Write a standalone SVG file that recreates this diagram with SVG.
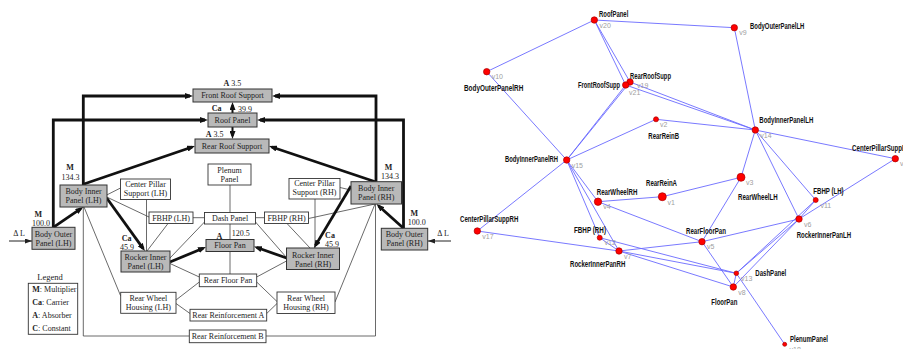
<svg xmlns="http://www.w3.org/2000/svg" width="903" height="349" viewBox="0 0 903 349">
<defs>
<style>
.box{fill:#fff;stroke:#333;stroke-width:0.9}
.gbox{fill:#b9b9b9;stroke:#333;stroke-width:1}
.t{font-family:"Liberation Serif",serif;font-size:8px;fill:#222;text-anchor:middle}
.s{text-anchor:start}
.b{font-weight:bold}
.thin{fill:none;stroke:#444;stroke-width:0.8}
.thick{fill:none;stroke:#111;stroke-width:2.8;marker-end:url(#ah)}
.med{fill:none;stroke:#111;stroke-width:2;marker-end:url(#ah)}
.dl{fill:none;stroke:#222;stroke-width:1;marker-end:url(#ah2)}
.edge{fill:none;stroke:#6a6aff;stroke-width:0.9}
.v{fill:#f00;stroke:#a00;stroke-width:0.7}
.lbl{font-family:"Liberation Sans",sans-serif;font-weight:bold;font-size:8.5px;fill:#111}
.vid{font-family:"Liberation Sans",sans-serif;font-size:7px;fill:#a0a0a0}
</style>
<marker id="ah" viewBox="0 0 8 6" refX="5" refY="3" markerWidth="8" markerHeight="6" markerUnits="userSpaceOnUse" orient="auto"><path d="M0,0 L8,3 L0,6 z" fill="#111"/></marker>
<marker id="ah2" viewBox="0 0 7 5" refX="7" refY="2.5" markerWidth="7" markerHeight="5" markerUnits="userSpaceOnUse" orient="auto"><path d="M0,0 L7,2.5 L0,5 z" fill="#222"/></marker>
</defs>
<rect width="903" height="349" fill="#fff"/>

<!-- ===== Left block diagram connectors ===== -->
<g id="block-connectors">
<path class="thin" d="M106.7,195 L120.5,188"/>
<path class="thin" d="M106.7,197 L149,217"/>
<path class="thin" d="M146.5,199.5 L146.5,251"/>
<path class="thin" d="M168,223.5 L147,251"/>
<path class="thin" d="M193,217.7 L204.5,217.7"/>
<path class="thin" d="M204.5,222 L170,258"/>
<path class="thin" d="M170,263.5 L199.3,277"/>
<path class="thin" d="M176,300 L199.3,282"/>
<path class="thin" d="M176,303.5 L190,313.5"/>
<path class="thin" d="M84,207 L120.7,296"/>
<path class="thin" d="M83.3,207 L83.3,336 L189.3,336"/>
<path class="thin" d="M230,185 L230,212.5"/>
<path class="thin" d="M230,224 L230,239.5"/>
<path class="thin" d="M230,251.5 L230,274"/>
<path class="thin" d="M255.5,217.7 L264.5,217.7"/>
<path class="thin" d="M255.5,222 L286.5,257.5"/>
<path class="thin" d="M256.7,277 L286.5,261"/>
<path class="thin" d="M256.7,282 L277,301.5"/>
<path class="thin" d="M266.7,313.5 L277,303.5"/>
<path class="thin" d="M350.7,190 L340,187.5"/>
<path class="thin" d="M308.5,218.5 L375,204"/>
<path class="thin" d="M315,199 L315,248"/>
<path class="thin" d="M287,223.5 L310,248"/>
<path class="thin" d="M375,204 L335,302"/>
<path class="thin" d="M375.5,204 L375.5,336 L266,336"/>
<path class="thick" d="M83.3,185 L83.3,96 L190,96"/>
<path class="thick" d="M53.3,227.3 L53.3,120 L205,120"/>
<path class="thick" d="M84,184 L192.2,147"/>
<path class="thick" d="M376,181.7 L376,96 L275,96"/>
<path class="thick" d="M403.5,228.3 L403.5,120 L260,120"/>
<path class="thick" d="M376,182 L271.8,147"/>
<path class="thick" d="M53.3,227.3 L80.8,208.7"/>
<path class="thick" d="M403.5,228.3 L378.7,206"/>
<path class="thick" d="M106.7,198 L143.2,248.6"/>
<path class="thick" d="M351,186 L315.5,245.4"/>
<path class="thick" d="M170,262 L203.2,248.2"/>
<path class="thick" d="M286.5,258 L256.8,247.5"/>
<path class="med" d="M232.5,113 L232.5,105"/>
<path class="med" d="M232.5,127 L232.5,136"/>
<path class="dl" d="M9,241 L32,241"/>
<path class="dl" d="M451,241 L428,241"/>
</g>

<!-- ===== Left block diagram nodes ===== -->
<g id="frontRoofSupport"><rect class="gbox" x="193" y="89" width="79" height="13"/><text class="t" x="232.5" y="98.3">Front Roof Support</text><text class="t" x="232.4" y="86"><tspan class="b">A</tspan> 3.5</text></g>
<g id="roofPanel"><rect class="gbox" x="208" y="113" width="49" height="14"/><text class="t" x="232.5" y="122.8">Roof Panel</text><text class="t b" x="216.7" y="110.7">Ca</text><text class="t s" x="238" y="111.5">39.9</text></g>
<g id="rearRoofSupport"><rect class="gbox" x="195" y="139" width="74" height="14"/><text class="t" x="232" y="148.8">Rear Roof Support</text><text class="t s" x="205.7" y="137"><tspan class="b">A</tspan> 3.5</text></g>
<g id="plenumPanel"><rect class="box" x="208" y="164" width="43" height="21"/><text class="t" x="229.5" y="173">Plenum</text><text class="t" x="229.5" y="182">Panel</text></g>
<g id="centerPillarLH"><rect class="box" x="120.5" y="179" width="50" height="20.5"/><text class="t" x="145.5" y="186.5">Center Pillar</text><text class="t" x="145.5" y="195.5">Support (LH)</text></g>
<g id="centerPillarRH"><rect class="box" x="289" y="178.5" width="51" height="20.5"/><text class="t" x="314.5" y="186">Center Pillar</text><text class="t" x="314.5" y="195">Support (RH)</text></g>
<g id="fbhpLH"><rect class="box" x="149" y="212" width="44" height="11.5"/><text class="t" x="171" y="220.8">FBHP (LH)</text></g>
<g id="dashPanel"><rect class="box" x="204.5" y="212.5" width="51" height="11.5"/><text class="t" x="230" y="221">Dash Panel</text></g>
<g id="fbhpRH"><rect class="box" x="264.5" y="212" width="44" height="11.5"/><text class="t" x="286.5" y="220.8">FBHP (RH)</text></g>
<g id="floorPan"><rect class="gbox" x="206" y="239.5" width="48" height="12"/><text class="t" x="230" y="248.3">Floor Pan</text><text class="t b" x="219.3" y="238.7">A</text><text class="t s" x="231.7" y="236">120.5</text></g>
<g id="rockerLH"><rect class="gbox" x="121" y="251" width="49" height="21"/><text class="t" x="145.5" y="260.3">Rocker Inner</text><text class="t" x="145.5" y="269.3">Panel (LH)</text><text class="t b" x="126.7" y="241">Ca</text><text class="t" x="127" y="250">45.9</text></g>
<g id="rockerRH"><rect class="gbox" x="286.5" y="248" width="53" height="21.5"/><text class="t" x="313" y="257.5">Rocker Inner</text><text class="t" x="313" y="266.5">Panel (RH)</text><text class="t b" x="330" y="238">Ca</text><text class="t" x="332" y="246.5">45.9</text></g>
<g id="bodyInnerLH"><rect class="gbox" x="60" y="185" width="47" height="22"/><text class="t" x="83.5" y="194.3">Body Inner</text><text class="t" x="83.5" y="203.3">Panel (LH)</text><text class="t b" x="70" y="170">M</text><text class="t" x="70.5" y="180">134.3</text></g>
<g id="bodyOuterLH"><rect class="gbox" x="32" y="227.3" width="43" height="22"/><text class="t" x="53.5" y="236.5">Body Outer</text><text class="t" x="53.5" y="245.5">Panel (LH)</text><text class="t b" x="38.3" y="217">M</text><text class="t" x="41" y="226">100.0</text><text class="t" x="19" y="236">Δ L</text></g>
<g id="bodyInnerRH"><rect class="gbox" x="351" y="181.7" width="50.5" height="22.3"/><text class="t" x="376.2" y="191">Body Inner</text><text class="t" x="376.2" y="200">Panel (RH)</text><text class="t b" x="388.5" y="170">M</text><text class="t" x="390" y="179">134.3</text></g>
<g id="bodyOuterRH"><rect class="gbox" x="381.3" y="228.3" width="46.4" height="21.7"/><text class="t" x="404.5" y="237.3">Body Outer</text><text class="t" x="404.5" y="246.3">Panel (RH)</text><text class="t b" x="414.3" y="216">M</text><text class="t" x="416.7" y="225">100.0</text><text class="t" x="443" y="236">Δ L</text></g>
<g id="rearFloorPan"><rect class="box" x="199.3" y="274" width="57.4" height="12.7"/><text class="t" x="228" y="283">Rear Floor Pan</text></g>
<g id="rearWheelLH"><rect class="box" x="120.7" y="292.3" width="55.3" height="21"/><text class="t" x="148.3" y="301">Rear Wheel</text><text class="t" x="148.3" y="310">Housing (LH)</text></g>
<g id="rearWheelRH"><rect class="box" x="277" y="292" width="58" height="21.5"/><text class="t" x="306" y="301">Rear Wheel</text><text class="t" x="306" y="310">Housing (RH)</text></g>
<g id="rearReinA"><rect class="box" x="190" y="309.3" width="76.7" height="11.7"/><text class="t" x="228.3" y="318">Rear Reinforcement A</text></g>
<g id="rearReinB"><rect class="box" x="189.3" y="330" width="76.7" height="12.7"/><text class="t" x="227.7" y="339">Rear Reinforcement B</text></g>
<g id="legend"><text class="t" x="50" y="279.5" style="font-size:8.5px">Legend</text><rect class="box" x="28.3" y="283.3" width="49.4" height="51"/>
<text class="t s" x="32.3" y="292"><tspan class="b">M</tspan>: Multiplier</text>
<text class="t s" x="32.3" y="305"><tspan class="b">Ca</tspan>: Carrier</text>
<text class="t s" x="32.3" y="318"><tspan class="b">A</tspan>: Absorber</text>
<text class="t s" x="32.3" y="330.8"><tspan class="b">C</tspan>: Constant</text></g>

<!-- ===== Right graph edges ===== -->
<g id="graph-edges">
<line class="edge" x1="594.3" y1="20" x2="734.3" y2="27.7"/>
<line class="edge" x1="594.3" y1="20" x2="486.7" y2="71.7"/>
<line class="edge" x1="594.3" y1="20" x2="625.7" y2="85"/>
<line class="edge" x1="594.3" y1="20" x2="630" y2="82"/>
<line class="edge" x1="486.7" y1="71.7" x2="566.7" y2="160"/>
<line class="edge" x1="625.7" y1="85" x2="566.7" y2="160"/>
<line class="edge" x1="630" y1="82" x2="566.7" y2="160"/>
<line class="edge" x1="625.7" y1="85" x2="755.3" y2="130"/>
<line class="edge" x1="630" y1="82" x2="755.3" y2="130"/>
<line class="edge" x1="656" y1="119.3" x2="566.7" y2="160"/>
<line class="edge" x1="656" y1="119.3" x2="755.3" y2="130"/>
<line class="edge" x1="734.3" y1="27.7" x2="755.3" y2="130"/>
<line class="edge" x1="755.3" y1="130" x2="895.3" y2="158.7"/>
<line class="edge" x1="755.3" y1="130" x2="741" y2="177.3"/>
<line class="edge" x1="755.3" y1="130" x2="799" y2="219"/>
<line class="edge" x1="755.3" y1="130" x2="815.7" y2="200"/>
<line class="edge" x1="895.3" y1="158.7" x2="799" y2="219"/>
<line class="edge" x1="815.7" y1="200" x2="799" y2="219"/>
<line class="edge" x1="815.7" y1="200" x2="736.3" y2="273.3"/>
<line class="edge" x1="799" y1="219" x2="736.3" y2="273.3"/>
<line class="edge" x1="799" y1="219" x2="733.3" y2="287"/>
<line class="edge" x1="799" y1="219" x2="702" y2="241.7"/>
<line class="edge" x1="741" y1="177.3" x2="662.3" y2="196.7"/>
<line class="edge" x1="741" y1="177.3" x2="702" y2="241.7"/>
<line class="edge" x1="662.3" y1="196.7" x2="598" y2="201.7"/>
<line class="edge" x1="598" y1="201.7" x2="566.7" y2="160"/>
<line class="edge" x1="598" y1="201.7" x2="702" y2="241.7"/>
<line class="edge" x1="566.7" y1="160" x2="477.3" y2="231"/>
<line class="edge" x1="566.7" y1="160" x2="599.7" y2="237.7"/>
<line class="edge" x1="566.7" y1="160" x2="619" y2="251"/>
<line class="edge" x1="477.3" y1="231" x2="619" y2="251"/>
<line class="edge" x1="599.7" y1="237.7" x2="619" y2="251"/>
<line class="edge" x1="599.7" y1="237.7" x2="736.3" y2="273.3"/>
<line class="edge" x1="619" y1="251" x2="702" y2="241.7"/>
<line class="edge" x1="619" y1="251" x2="736.3" y2="273.3"/>
<line class="edge" x1="619" y1="251" x2="733.3" y2="287"/>
<line class="edge" x1="702" y1="241.7" x2="733.3" y2="287"/>
<line class="edge" x1="736.3" y1="273.3" x2="784.7" y2="344.3"/>
<line class="edge" x1="736.3" y1="273.3" x2="733.3" y2="287"/>
</g>

<!-- ===== Right graph nodes ===== -->
<g id="v20"><circle class="v" cx="594.3" cy="20" r="3.2"/><text class="lbl" x="599" y="17" textLength="29.3" lengthAdjust="spacingAndGlyphs">RoofPanel</text><text class="vid" x="599.5" y="27.5">v20</text></g>
<g id="v9"><circle class="v" cx="734.3" cy="27.7" r="3.2"/><text class="lbl" x="750" y="28.7" textLength="54.3" lengthAdjust="spacingAndGlyphs">BodyOuterPanelLH</text><text class="vid" x="739.3" y="35.3">v9</text></g>
<g id="v10"><circle class="v" cx="486.7" cy="71.7" r="3.2"/><text class="lbl" x="464" y="90.7" textLength="59.3" lengthAdjust="spacingAndGlyphs">BodyOuterPanelRH</text><text class="vid" x="491.7" y="79.2">v10</text></g>
<g id="v19"><circle class="v" cx="630" cy="82" r="3.2"/><text class="lbl" x="630" y="78.7" textLength="41" lengthAdjust="spacingAndGlyphs">RearRoofSupp</text><text class="vid" x="637" y="87.5">v19</text></g>
<g id="v21"><circle class="v" cx="625.7" cy="85" r="3.2"/><text class="lbl" x="578" y="87.7" textLength="42" lengthAdjust="spacingAndGlyphs">FrontRoofSupp</text><text class="vid" x="629" y="94.5">v21</text></g>
<g id="v2"><circle class="v" cx="656" cy="119.3" r="2.5"/><text class="lbl" x="648.3" y="139" textLength="30.7" lengthAdjust="spacingAndGlyphs">RearReinB</text><text class="vid" x="660" y="127">v2</text></g>
<g id="v15"><circle class="v" cx="566.7" cy="160" r="3.2"/><text class="lbl" x="505" y="162.3" textLength="53" lengthAdjust="spacingAndGlyphs">BodyInnerPanelRH</text><text class="vid" x="571.7" y="167.5">v15</text></g>
<g id="v14"><circle class="v" cx="755.3" cy="130" r="3.2"/><text class="lbl" x="759.3" y="123" textLength="54" lengthAdjust="spacingAndGlyphs">BodyInnerPanelLH</text><text class="vid" x="760.3" y="137.5">v14</text></g>
<g id="v16"><circle class="v" cx="895.3" cy="158.7" r="3.2"/><text class="lbl" x="852" y="151" textLength="58.3" lengthAdjust="spacingAndGlyphs">CenterPillarSuppLH</text><text class="vid" x="900" y="166.2">v16</text></g>
<g id="v4"><circle class="v" cx="598" cy="201.7" r="3.7"/><text class="lbl" x="596.7" y="194.7" textLength="40.7" lengthAdjust="spacingAndGlyphs">RearWheelRH</text><text class="vid" x="603.3" y="209.2">v4</text></g>
<g id="v1"><circle class="v" cx="662.3" cy="196.7" r="4"/><text class="lbl" x="646" y="185.7" textLength="31" lengthAdjust="spacingAndGlyphs">RearReinA</text><text class="vid" x="667.5" y="204.5">v1</text></g>
<g id="v17"><circle class="v" cx="477.3" cy="231" r="3.2"/><text class="lbl" x="460" y="222.3" textLength="58.3" lengthAdjust="spacingAndGlyphs">CenterPillarSuppRH</text><text class="vid" x="482.3" y="238.5">v17</text></g>
<g id="v12"><circle class="v" cx="599.7" cy="237.7" r="2.5"/><text class="lbl" x="574" y="233" textLength="32" lengthAdjust="spacingAndGlyphs">FBHP (RH)</text><text class="vid" x="604.5" y="245.2">v12</text></g>
<g id="v7"><circle class="v" cx="619" cy="251" r="3.2"/><text class="lbl" x="570" y="267" textLength="55.3" lengthAdjust="spacingAndGlyphs">RockerInnerPanRH</text><text class="vid" x="624" y="258.5">v7</text></g>
<g id="v3"><circle class="v" cx="741" cy="177.3" r="4"/><text class="lbl" x="738" y="199.7" textLength="39.7" lengthAdjust="spacingAndGlyphs">RearWheelLH</text><text class="vid" x="746" y="185">v3</text></g>
<g id="v11"><circle class="v" cx="815.7" cy="200" r="2.5"/><text class="lbl" x="813.3" y="194.3" textLength="30.3" lengthAdjust="spacingAndGlyphs">FBHP (LH)</text><text class="vid" x="820.5" y="207.5">v11</text></g>
<g id="v6"><circle class="v" cx="799" cy="219" r="3.2"/><text class="lbl" x="796.7" y="238.3" textLength="54.3" lengthAdjust="spacingAndGlyphs">RockerInnerPanLH</text><text class="vid" x="804" y="226.5">v6</text></g>
<g id="v5"><circle class="v" cx="702" cy="241.7" r="3.2"/><text class="lbl" x="686" y="234" textLength="40" lengthAdjust="spacingAndGlyphs">RearFloorPan</text><text class="vid" x="707" y="249.2">v5</text></g>
<g id="v13"><circle class="v" cx="736.3" cy="273.3" r="2.3"/><text class="lbl" x="755.3" y="276.3" textLength="31" lengthAdjust="spacingAndGlyphs">DashPanel</text><text class="vid" x="741" y="280.8">v13</text></g>
<g id="v8"><circle class="v" cx="733.3" cy="287" r="3.2"/><text class="lbl" x="711.3" y="305.3" textLength="26" lengthAdjust="spacingAndGlyphs">FloorPan</text><text class="vid" x="738.3" y="294.5">v8</text></g>
<g id="v18"><circle class="v" cx="784.7" cy="344.3" r="2"/><text class="lbl" x="790" y="342" textLength="38" lengthAdjust="spacingAndGlyphs">PlenumPanel</text><text class="vid" x="789.5" y="351.5">v18</text></g>
</svg>
